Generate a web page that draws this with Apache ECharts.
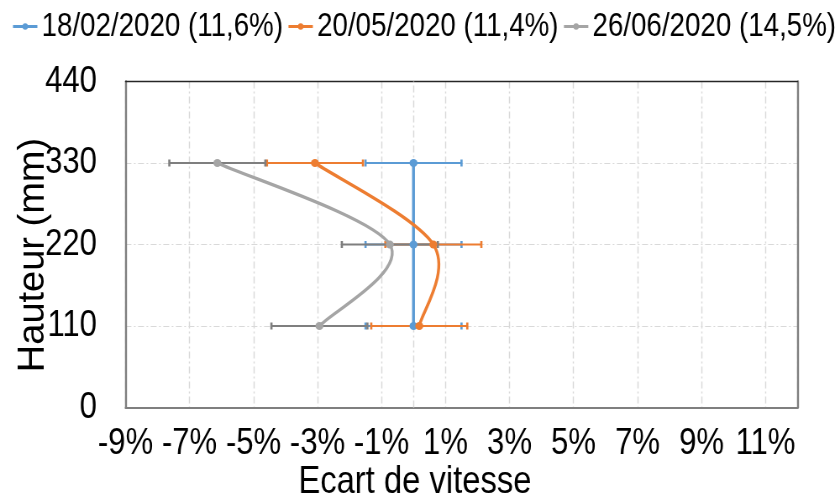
<!DOCTYPE html>
<html>
<head>
<meta charset="utf-8">
<script src="https://cdn.jsdelivr.net/npm/echarts@6/dist/echarts.min.js"></script>
<style>
  html, body { margin: 0; padding: 0; background: #fff; overflow: hidden; }
  #wrap { width: 840px; height: 497px; overflow: hidden; }
  /* the chart is laid out wider and condensed horizontally, giving tall narrow lettering */
  #chart { width: 1000px; height: 497px; transform: scaleX(0.84); transform-origin: 0 0; }
</style>
</head>
<body>
<div id="wrap"><div id="chart"></div></div>
<script>
// Measurement heights (mm) and velocity deviation (%) per campaign
const heights = [110, 220, 330];
const seriesNames = ['18/02/2020 (11,6%)', '20/05/2020 (11,4%)', '26/06/2020 (14,5%)'];
const ecartFeb = [0.0, 0.0, 0.0];
const ecartMay = [0.18, 0.62, -3.08];
const ecartJun = [-2.94, -0.74, -6.13];
const errFeb = [1.5, 1.5, 1.5];
const errMay = [1.5, 1.5, 1.5];
const errJun = [1.5, 1.5, 1.5];

// x axis ticks: -9%, -7%, ... 11%, axis running to 12%
const X_MIN = -9, X_MAX = 12, X_STEP = 2;
const Y_MIN = 0, Y_MAX = 440, Y_STEP = 110;
const xTitle = 'Ecart de vitesse';
const yTitle = 'Hauteur (mm)';

// The value scale starts its ticks at a multiple of the step, so the x values
// are handed to ECharts shifted by one unit and shifted back in the labels.
const SHIFT = 1;
const SX = 0.84; // horizontal condensing applied to the chart box

const lineColors = ['#5B9BD5', '#ED7D31', '#A5A5A5'];
const errColors = ['#5B9BD5', '#ED7D31', '#7F7F7F'];
const FONT = "'Liberation Sans', Arial, sans-serif";
const gridDash = [7, 3, 2, 3];

const toPoints = values => values.map((v, i) => [v + SHIFT, heights[i]]);

// Marker series: carries the legend entry and the point symbols
function markerSeries(name, values, color) {
  return {
    name: name,
    type: 'line',
    data: toPoints(values),
    symbol: 'circle',
    symbolSize: [8 / SX, 8],
    lineStyle: { color: color, width: 3, opacity: 0 },
    itemStyle: { color: color, borderColor: color, borderWidth: 0, opacity: 1 },
    z: 4
  };
}

// Smoothed curve through the points (cardinal bezier through each point, in pixel space)
function curveSeries(name, values, color) {
  const pts = toPoints(values);
  return {
    name: name,
    type: 'custom',
    silent: true,
    z: 3,
    data: pts,
    renderItem: function (params, api) {
      if (params.dataIndex !== 0) return null;
      const p = pts.map(d => api.coord(d));
      const n = p.length;
      let d = 'M' + p[0][0] + ' ' + p[0][1];
      for (let i = 0; i < n - 1; i++) {
        const a = p[Math.max(i - 1, 0)], b = p[i], c = p[i + 1], e = p[Math.min(i + 2, n - 1)];
        const c1x = b[0] + (c[0] - a[0]) / 6, c1y = b[1] + (c[1] - a[1]) / 6;
        const c2x = c[0] - (e[0] - b[0]) / 6, c2y = c[1] - (e[1] - b[1]) / 6;
        d += ' C' + c1x + ' ' + c1y + ' ' + c2x + ' ' + c2y + ' ' + c[0] + ' ' + c[1];
      }
      return {
        type: 'path',
        shape: { pathData: d },
        style: { fill: 'none', stroke: color, lineWidth: 3.4, lineJoin: 'round' }
      };
    }
  };
}

function errorSeries(name, values, errs, color) {
  return {
    name: name + ' err',
    type: 'custom',
    silent: true,
    z: 2,
    encode: { x: [0, 2], y: 1 },
    data: values.map((v, i) => [v - errs[i] + SHIFT, heights[i], v + errs[i] + SHIFT]),
    renderItem: function (params, api) {
      const y = api.value(1);
      const lo = api.coord([api.value(0), y]);
      const hi = api.coord([api.value(2), y]);
      const cap = 3.5;
      const st = { stroke: color, lineWidth: 2.2 };
      const capSt = { stroke: color, lineWidth: 2.2 / SX };
      return {
        type: 'group',
        children: [
          { type: 'line', shape: { x1: lo[0], y1: lo[1], x2: hi[0], y2: hi[1] }, style: st },
          { type: 'line', shape: { x1: lo[0], y1: lo[1] - cap, x2: lo[0], y2: lo[1] + cap }, style: capSt },
          { type: 'line', shape: { x1: hi[0], y1: hi[1] - cap, x2: hi[0], y2: hi[1] + cap }, style: capSt }
        ]
      };
    }
  };
}

const chart = echarts.init(document.getElementById('chart'), null, { renderer: 'canvas', width: 1000, height: 497 });

const series = [
  errorSeries(seriesNames[0], ecartFeb, errFeb, errColors[0]),
  errorSeries(seriesNames[1], ecartMay, errMay, errColors[1]),
  errorSeries(seriesNames[2], ecartJun, errJun, errColors[2]),
  curveSeries(seriesNames[0] + ' ', ecartFeb, lineColors[0]),
  curveSeries(seriesNames[1] + ' ', ecartMay, lineColors[1]),
  curveSeries(seriesNames[2] + ' ', ecartJun, lineColors[2]),
  markerSeries(seriesNames[0], ecartFeb, lineColors[0]),
  markerSeries(seriesNames[1], ecartMay, lineColors[1]),
  markerSeries(seriesNames[2], ecartJun, lineColors[2])
];

// zero line of the deviation axis, kept underneath the data
series[0].markLine = {
  silent: true,
  z: 1,
  symbol: 'none',
  label: { show: false },
  lineStyle: { color: '#D9D9D9', width: 1.2 / SX, type: gridDash },
  data: [{ xAxis: 0 + SHIFT }]
};

// frame edges drawn by a second pair of axes (top and right)
const frameAxis = (pos, color, width) => ({
  type: 'value',
  position: pos,
  axisLine: { show: true, onZero: false, lineStyle: { color: color, width: width } },
  axisTick: { show: false },
  axisLabel: { show: false },
  splitLine: { show: false }
});

chart.setOption({
  animation: false,
  backgroundColor: '#fff',
  legend: {
    data: seriesNames.map((n, i) => ({
      name: n,
      lineStyle: { color: lineColors[i], width: 3, opacity: 1 }
    })),
    left: 14,
    top: 10,
    padding: 0,
    itemGap: 5,
    itemWidth: 29,
    itemHeight: 8,
    textStyle: { fontFamily: FONT, fontSize: 33, color: '#000' }
  },
  // vertical axis title, rotated; its height direction is stretched back
  // so the glyphs keep their normal proportions inside the condensed box
  graphic: [{
    type: 'text',
    silent: true,
    x: 39.5,
    y: 255,
    rotation: Math.PI / 2,
    scaleY: 1 / SX,
    style: {
      text: yTitle,
      fontFamily: FONT,
      fontSize: 38,
      fill: '#000',
      align: 'center',
      verticalAlign: 'middle'
    }
  }],
  grid: {
    left: 149.4,
    right: 50.6,
    top: 81.5,
    bottom: 89.5,
    outerBoundsMode: 'none',
    containLabel: false,
    show: false
  },
  xAxis: [{
    type: 'value',
    min: X_MIN + SHIFT,
    max: X_MAX + SHIFT,
    interval: X_STEP,
    name: xTitle,
    nameLocation: 'middle',
    nameGap: 55,
    nameMoveOverlap: false,
    nameTextStyle: { fontFamily: FONT, fontSize: 39, color: '#000', padding: [0, 111, 0, 0] },
    axisLine: { show: true, onZero: false, lineStyle: { color: '#7F7F7F', width: 2 } },
    axisTick: { show: false },
    axisLabel: {
      fontFamily: FONT,
      fontSize: 37,
      color: '#000',
      margin: 18,
      showMinLabel: true,
      showMaxLabel: false,
      hideOverlap: false,
      formatter: v => (v - SHIFT) + '%'
    },
    splitLine: { show: true, lineStyle: { color: '#D9D9D9', width: 1.2 / SX, type: gridDash } }
  }, Object.assign(frameAxis('top', '#262626', 1.3), { min: X_MIN + SHIFT, max: X_MAX + SHIFT })],
  yAxis: [{
    type: 'value',
    min: Y_MIN,
    max: Y_MAX,
    interval: Y_STEP,
    axisLine: { show: true, onZero: false, lineStyle: { color: '#7F7F7F', width: 2 / SX } },
    axisTick: { show: false },
    axisLabel: { fontFamily: FONT, fontSize: 37, color: '#000', margin: 34, showMinLabel: true, showMaxLabel: true },
    splitLine: { show: true, lineStyle: { color: '#D9D9D9', width: 1, type: gridDash } }
  }, Object.assign(frameAxis('right', '#7F7F7F', 2 / SX), { min: Y_MIN, max: Y_MAX })],
  series: series
});
</script>
</body>
</html>
